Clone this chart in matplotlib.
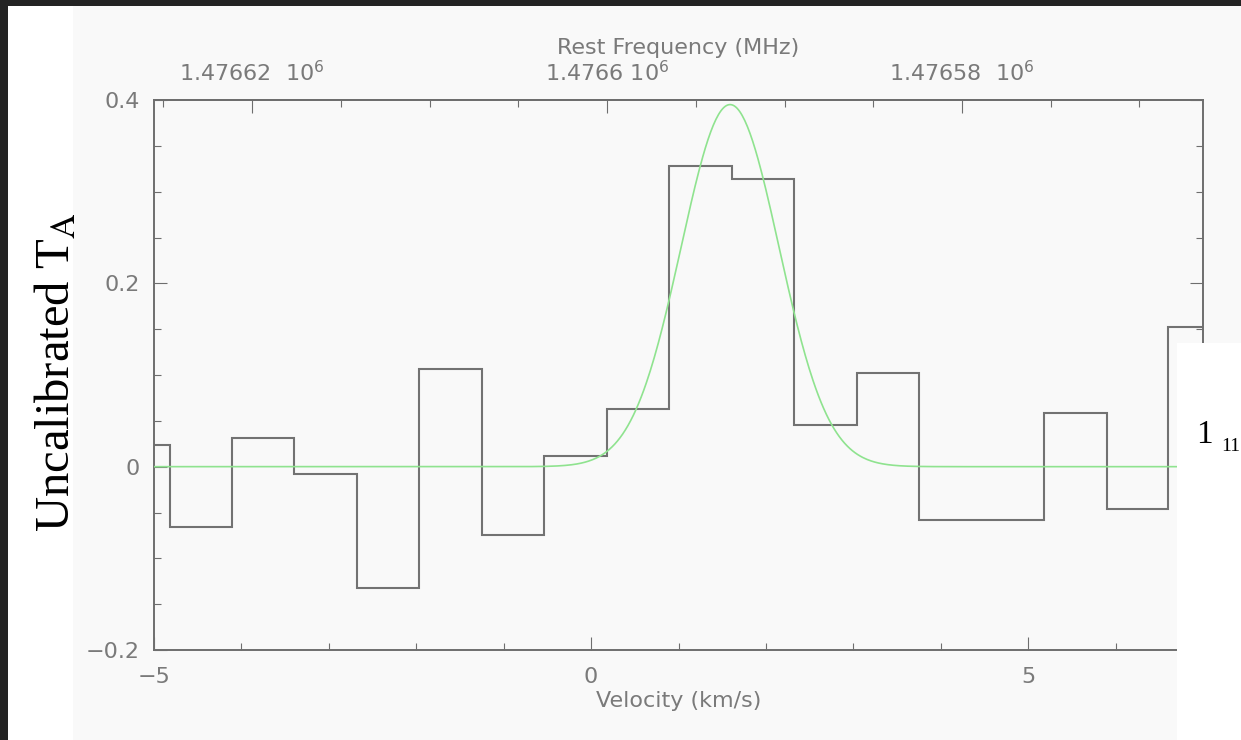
import numpy as np
import matplotlib.pyplot as plt
from matplotlib.patches import Rectangle
from matplotlib.ticker import MultipleLocator, FixedLocator, FixedFormatter

# channel edges (km/s) and antenna temperature per channel
edges = [-5.54, -4.82, -4.11, -3.40, -2.68, -1.97, -1.25, -0.54, 0.18, 0.89,
         1.61, 2.32, 3.04, 3.75, 4.46, 5.18, 5.90, 6.60, 7.32]
ta = [0.024, -0.066, 0.031, -0.008, -0.132, 0.107, -0.075, 0.012, 0.063,
      0.328, 0.314, 0.045, 0.102, -0.058, -0.058, 0.059, -0.046, 0.152]

# gaussian fit (green curve)
fit_amp = 0.395
fit_v0 = 1.59
fit_sigma = 0.56

# velocity / frequency axes
f_rest = 1476600.9          # MHz, puts 1.4766e6 at v = 0.18 km/s
c_kms = 299792.458
freq_ticks = [1476620, 1476600, 1476580]
freq_labels = [r'1.47662  10$^{6}$', r'1.4766 10$^{6}$', r'1.47658  10$^{6}$']
yticks = [-0.2, 0, 0.2, 0.4]
ylabels = ['\u22120.2', '0', '0.2', '0.4']

W, H = 1241, 740
panel = '#f9f9f9'
ink = '#6e6e6e'
txt = '#7a7a7a'

fig = plt.figure(figsize=(W / 100, H / 100), dpi=100, facecolor=panel)
ax = fig.add_axes([154 / W, 1 - 650 / H, (1203 - 154) / W, 550 / H])
ax.set_facecolor(panel)

ax.stairs(ta, edges, color='#727272', lw=1.5, zorder=2)
vv = np.linspace(-5, 7, 800)
ax.plot(vv, fit_amp * np.exp(-0.5 * ((vv - fit_v0) / fit_sigma) ** 2),
        color='#8fe38f', lw=1.2, zorder=3)

ax.set_xlim(-5, 7)
ax.set_ylim(-0.2, 0.4)

ax.xaxis.set_major_locator(MultipleLocator(5))
ax.xaxis.set_minor_locator(MultipleLocator(1))
ax.yaxis.set_major_locator(FixedLocator(yticks))
ax.yaxis.set_major_formatter(FixedFormatter(ylabels))
ax.yaxis.set_minor_locator(MultipleLocator(0.05))

ax.tick_params(which='both', direction='in', top=False, right=True,
               color=ink, width=0.8, labelcolor=txt, labelsize=16)
ax.tick_params(which='major', length=9.5)
ax.tick_params(which='minor', length=5)
ax.tick_params(axis='x', pad=12)
ax.tick_params(axis='y', pad=10)
for s in ax.spines.values():
    s.set_color(ink)
    s.set_linewidth(1.4)

ax.set_xlabel('Velocity (km/s)', color=txt, fontsize=16, labelpad=3)

# rest frequency on the top axis
def v2f(v):
    return f_rest * (1 - np.asarray(v) / c_kms)

def f2v(f):
    return c_kms * (1 - np.asarray(f) / f_rest)

sec = ax.secondary_xaxis('top', functions=(v2f, f2v))
sec.xaxis.set_major_locator(FixedLocator(freq_ticks))
sec.xaxis.set_major_formatter(FixedFormatter(freq_labels))
sec.xaxis.set_minor_locator(MultipleLocator(5))
sec.tick_params(which='both', direction='in', color=ink, width=0.8,
                labelcolor=txt, labelsize=16, pad=11)
sec.tick_params(which='major', length=9.5)
sec.tick_params(which='minor', length=5)
sec.spines['top'].set_color(ink)
sec.spines['top'].set_linewidth(1.4)
sec.set_xlabel('Rest Frequency (MHz)', color=txt, fontsize=16, labelpad=4)

# frame pieces around the screenshot
fig.add_artist(Rectangle((8 / W, 0), 65 / W, 1 - 6 / H, transform=fig.transFigure,
                         facecolor='white', edgecolor='none', zorder=10))
fig.add_artist(Rectangle((1177 / W, 0), (W - 1177) / W, 1 - 343 / H,
                         transform=fig.transFigure, facecolor='white',
                         edgecolor='none', zorder=10))
fig.add_artist(Rectangle((0, 0), 8 / W, 1, transform=fig.transFigure,
                         facecolor='#232323', edgecolor='none', zorder=20))
fig.add_artist(Rectangle((0, 1 - 6 / H), 1, 6 / H, transform=fig.transFigure,
                         facecolor='#232323', edgecolor='none', zorder=20))

fig.text(57 / W, 1 - 372 / H, r'Uncalibrated T$_{\mathrm{A}}$', rotation=90,
         ha='center', va='center', family='Liberation Serif',
         math_fontfamily='stix', fontsize=35, color='black', zorder=30)
fig.text(1196 / W, 1 - 443 / H, '1', family='Liberation Serif', fontsize=24,
         ha='left', va='baseline', color='black', zorder=30)
fig.text(1221 / W, 1 - 451 / H, '11', family='Liberation Serif', fontsize=14,
         ha='left', va='baseline', color='black', zorder=30)

fig.savefig('out.png', dpi=100, facecolor=fig.get_facecolor())
